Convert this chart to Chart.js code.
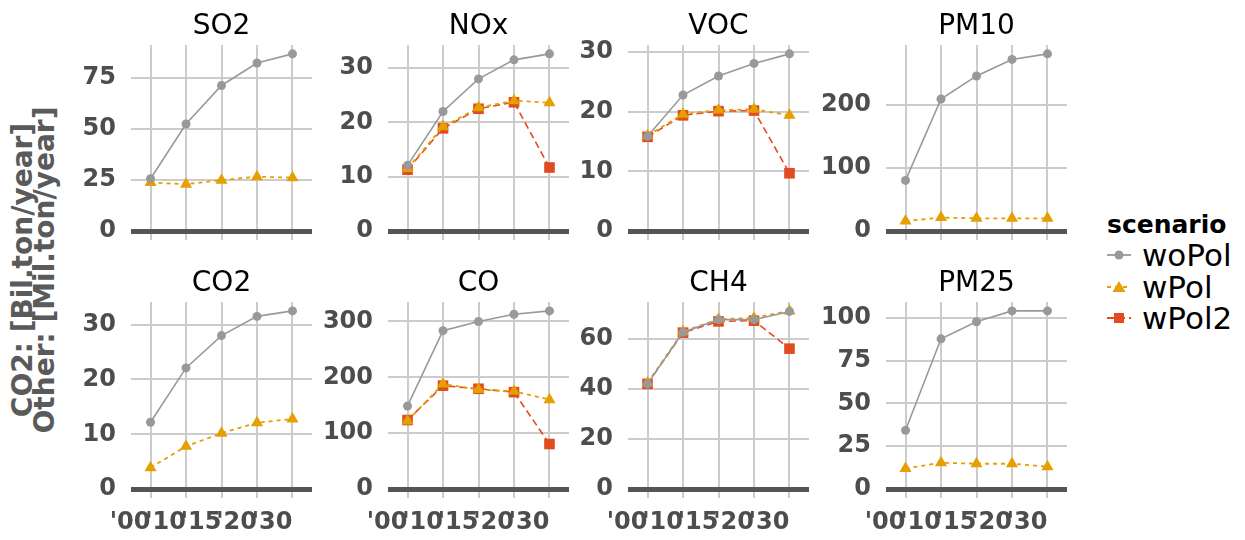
<!DOCTYPE html>
<html>
<head>
<meta charset="utf-8">
<script src="https://cdn.jsdelivr.net/npm/chart.js@4.4.1/dist/chart.umd.min.js"></script>
<style>
 body { margin: 0; width: 1245px; height: 540px; overflow: hidden; position: relative; background: #fff; font-family: "DejaVu Sans", sans-serif; }
 canvas { position: absolute; }
 #ytitle { position: absolute; left: -166px; top: 248px; width: 400px; height: 44px; line-height: 22px;
   text-align: center; white-space: nowrap; transform: rotate(-90deg); transform-origin: 50% 50%;
   font-weight: bold; font-size: 28px; color: #5a5a5a; }
 .lg { position: absolute; left: 1105px; white-space: nowrap; color: #000; }
 .lg svg { position: absolute; left: 0; top: 6px; }
 .lg span { position: absolute; left: 37px; top: 0; font-size: 31px; line-height: 32px; }
 #lgTitle { position: absolute; left: 1107px; top: 210px; font-weight: bold; font-size: 25px; line-height: 30px; }
</style>
</head>
<body>
<div id="ytitle">CO2: [Bil.ton/year]<br>Other: [Mil.ton/year]</div>
<div id="lgTitle">scenario</div>
<div class="lg" style="top:239px"><svg width="28" height="20"><line x1="2" y1="10" x2="26" y2="10" stroke="#999999" stroke-width="1.8"/><circle cx="14" cy="10" r="4.5" fill="#999999"/></svg><span>woPol</span></div>
<div class="lg" style="top:271px"><svg width="28" height="20"><line x1="2" y1="10" x2="26" y2="10" stroke="#E69F00" stroke-width="1.8" stroke-dasharray="4 4"/><polygon points="14,4 20.5,15 7.5,15" fill="#E69F00"/></svg><span>wPol</span></div>
<div class="lg" style="top:302px"><svg width="28" height="20"><line x1="2" y1="10" x2="26" y2="10" stroke="#E04B1F" stroke-width="1.8" stroke-dasharray="7 4"/><rect x="9" y="5" width="10" height="10" fill="#E04B1F"/></svg><span>wPol2</span></div>
<script>
// x categories (scenario years)
const years = ["'00", "'10", "'15", "'20", "'30"];

// values, per pollutant and scenario
const so2WoPol = [25.7, 52.5, 71.4, 82.4, 86.9];
const so2WPol = [23.8, 23.0, 25.0, 26.7, 26.2];
const noxWoPol = [12.1, 22.0, 28.0, 31.5, 32.6];
const noxWPol = [11.5, 19.2, 22.7, 24.0, 23.6];
const noxWPol2 = [11.3, 18.9, 22.5, 23.7, 11.7];
const vocWoPol = [15.9, 22.8, 26.0, 28.1, 29.7];
const vocWPol = [16.0, 19.6, 20.3, 20.4, 19.4];
const vocWPol2 = [15.8, 19.4, 20.1, 20.2, 9.7];
const pm10WoPol = [80.2, 208.9, 245.3, 271.4, 280.2];
const pm10WPol = [16.0, 21.4, 20.3, 20.3, 20.3];
const co2WoPol = [12.2, 22.1, 28.0, 31.5, 32.5];
const co2WPol = [3.9, 7.8, 10.2, 12.1, 12.8];
const coWoPol = [148.7, 283.4, 299.8, 312.7, 318.7];
const coWPol = [122, 188, 178, 175, 160];
const coWPol2 = [123.5, 185, 179.4, 173.4, 80.6];
const ch4WoPol = [42.1, 62.8, 67.8, 67.8, 71.1];
const ch4WPol = [42.5, 63.0, 68.0, 68.5, 71.3];
const ch4WPol2 = [42.1, 62.6, 67.1, 67.4, 56.2];
const pm25WoPol = [34.3, 87.7, 97.7, 104, 104];
const pm25WPol = [12.0, 15.4, 14.8, 14.8, 13.1];

// y tick labels per panel
const so2Ticks = [0, 25, 50, 75];
const noxTicks = [0, 10, 20, 30];
const vocTicks = [0, 10, 20, 30];
const pm10Ticks = [0, 100, 200];
const co2Ticks = [0, 10, 20, 30];
const coTicks = [0, 100, 200, 300];
const ch4Ticks = [0, 20, 40, 60];
const pm25Ticks = [0, 25, 50, 75, 100];

const panels = [
  { name: "SO2", series: [so2WoPol, so2WPol, null], ticks: so2Ticks },
  { name: "NOx", series: [noxWoPol, noxWPol, noxWPol2], ticks: noxTicks },
  { name: "VOC", series: [vocWoPol, vocWPol, vocWPol2], ticks: vocTicks },
  { name: "PM10", series: [pm10WoPol, pm10WPol, null], ticks: pm10Ticks },
  { name: "CO2", series: [co2WoPol, co2WPol, null], ticks: co2Ticks },
  { name: "CO", series: [coWoPol, coWPol, coWPol2], ticks: coTicks },
  { name: "CH4", series: [ch4WoPol, ch4WPol, ch4WPol2], ticks: ch4Ticks },
  { name: "PM25", series: [pm25WoPol, pm25WPol, null], ticks: pm25Ticks },
];

const styles = [
  { label: "woPol", color: "#999999", shape: "circle", r: 4.5, dash: [], w: 1.6 },
  { label: "wPol", color: "#E69F00", shape: "triangle", r: 7, dash: [4, 4], w: 1.8 },
  { label: "wPol2", color: "#E04B1F", shape: "rect", r: 7.5, dash: [7, 4], w: 1.6 },
];

// panel geometry
const colLeft = [131, 388, 628, 886];
const rowTop = [45, 302];
const rowH = [195, 196];
const PANEL_W = 181, AXIS_W = 70, TITLE_H = 40, XLAB_H = 40;

const tickFont = { family: "DejaVu Sans", weight: "bold", size: 24 };

panels.forEach((p, i) => {
  const row = Math.floor(i / 4), col = i % 4;
  const cv = document.createElement("canvas");
  cv.width = AXIS_W + PANEL_W;
  cv.height = TITLE_H + rowH[row] + (row ? XLAB_H : 0);
  cv.style.left = (colLeft[col] - AXIS_W) + "px";
  cv.style.top = (rowTop[row] - TITLE_H) + "px";
  document.body.appendChild(cv);

  const all = p.series.filter(Boolean).flat();
  const lo = Math.min(0, ...all), hi = Math.max(...all);
  const pad = (hi - lo) * 0.05;

  new Chart(cv, {
    type: "line",
    data: {
      datasets: p.series.map((vals, k) => vals && {
        label: styles[k].label,
        data: vals.map((v, j) => ({ x: j, y: v })),
        borderColor: styles[k].color,
        backgroundColor: styles[k].color,
        borderWidth: styles[k].w,
        borderDash: styles[k].dash,
        pointStyle: styles[k].shape,
        pointRadius: styles[k].r,
        pointBorderWidth: 0,
        tension: 0,
      }).filter(Boolean),
    },
    options: {
      responsive: false,
      animation: false,
      devicePixelRatio: 1,
      layout: { padding: 0, autoPadding: false },
      plugins: {
        legend: { display: false },
        tooltip: { enabled: false },
        title: {
          display: true,
          text: p.name,
          fullSize: false,
          color: "#000",
          font: { family: "DejaVu Sans", size: 28, weight: "normal", lineHeight: 1.25 },
          padding: { top: 4, bottom: 1 },
        },
      },
      scales: {
        x: {
          type: "linear",
          min: -0.55,
          max: 4.55,
          afterBuildTicks: (s) => { s.ticks = years.map((_, j) => ({ value: j })); },
          afterFit: (s) => {
            s.height = row ? XLAB_H : 0;
            s.paddingLeft = 0;
            s.paddingRight = 0;
          },
          grid: { color: "#cccccc", lineWidth: 2, drawTicks: false, z: -1 },
          border: { display: false },
          ticks: {
            display: row === 1,
            autoSkip: false,
            maxRotation: 0,
            minRotation: 0,
            align: "end",
            padding: 10,
            color: "#4d4d4d",
            font: tickFont,
            callback: (v) => years[v],
          },
        },
        y: {
          min: lo - pad,
          max: hi + pad,
          afterBuildTicks: (s) => { s.ticks = p.ticks.map((v) => ({ value: v })); },
          afterFit: (s) => {
            s.width = AXIS_W;
            s.paddingTop = 0;
            s.paddingBottom = 0;
          },
          grid: {
            color: (c) => (c.tick && c.tick.value === 0 ? "#555555" : "#cccccc"),
            lineWidth: (c) => (c.tick && c.tick.value === 0 ? 5 : 2),
            drawTicks: false,
          },
          border: { display: false },
          ticks: { padding: 15, color: "#4d4d4d", font: tickFont },
        },
      },
    },
  });
});
</script>
</body>
</html>
